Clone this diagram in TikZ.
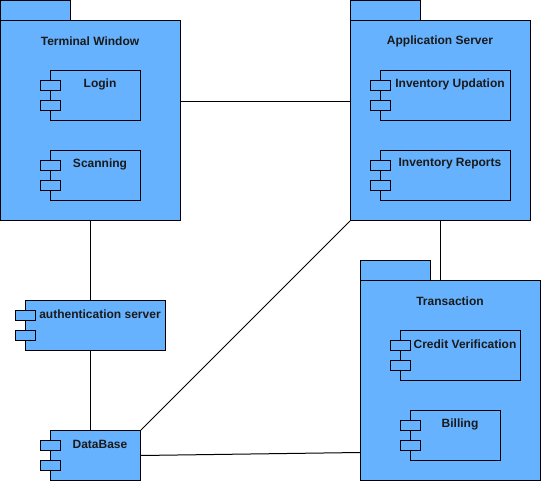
\documentclass[tikz,border=0pt]{standalone}
\usepackage{fontspec}
\setmainfont{Liberation Sans}
\definecolor{fillb}{HTML}{66B2FF}
\definecolor{txt}{HTML}{1A1A1A}
\begin{document}
\begin{tikzpicture}[x=1pt,y=-1pt,line width=1pt,
  box/.style={draw=black,fill=fillb,inner sep=0pt,anchor=north west},
  lbl/.style={text=txt,font=\fontsize{12}{14}\selectfont\bfseries,inner sep=0pt,anchor=center},
  conn/.style={draw=black,line width=1pt}]
\useasboundingbox (0,0) rectangle (541,481);
% packages
\newcommand{\pkgdraw}[5]{% name, x, y(top of body), title, unused
  \node[box,minimum width=70,minimum height=20] (#1tab) at (#2,#3-20) {};
  \node[box,minimum width=180,minimum height=200] (#1) at (#2,#3) {};
  \node[lbl] (#1t) at (#2+90,#3+21) {#4};
}
\newcommand{\compdraw}[6]{% name, x, y, w, title
  \node[box,minimum width=#4,minimum height=50] (#1) at (#2,#3) {};
  \node[box,minimum width=20,minimum height=10] (#1a) at (#2-10,#3+10) {};
  \node[box,minimum width=20,minimum height=10] (#1b) at (#2-10,#3+30) {};
  \node[lbl] (#1t) at (#2+10+#4/2-5,#3+14) {#5};
}
\pkgdraw{tw}{0}{20}{Terminal Window}{}
\pkgdraw{as}{350}{20}{Application Server}{}
\pkgdraw{tr}{360}{280}{Transaction}{}
\compdraw{login}{50}{70}{90}{Login}{}
\compdraw{scan}{50}{150}{90}{Scanning}{}
\compdraw{iu}{380}{70}{130}{Inventory Updation}{}
\compdraw{ir}{380}{150}{130}{Inventory Reports}{}
\compdraw{cv}{400}{330}{120}{Credit Verification}{}
\compdraw{bill}{410}{410}{90}{Billing}{}
\compdraw{au}{25}{300}{140}{authentication server}{}
\compdraw{db}{50}{430}{90}{DataBase}{}
% connectors
\draw[conn] ([yshift=19]tw.east) -- ([yshift=19]as.west);
\draw[conn] (tw.south) -- (tw.south |- au.north);
\draw[conn] ([xshift=-5]au.south) -- ([xshift=-5]au.south |- db.north);
\draw[conn] (db.north east) -- (as.south west);
\draw[conn] (db.east) -- ([yshift=-72]tr.west);
\draw[conn] (as.south) -- (as.south |- tr.north);
\end{tikzpicture}
\end{document}
